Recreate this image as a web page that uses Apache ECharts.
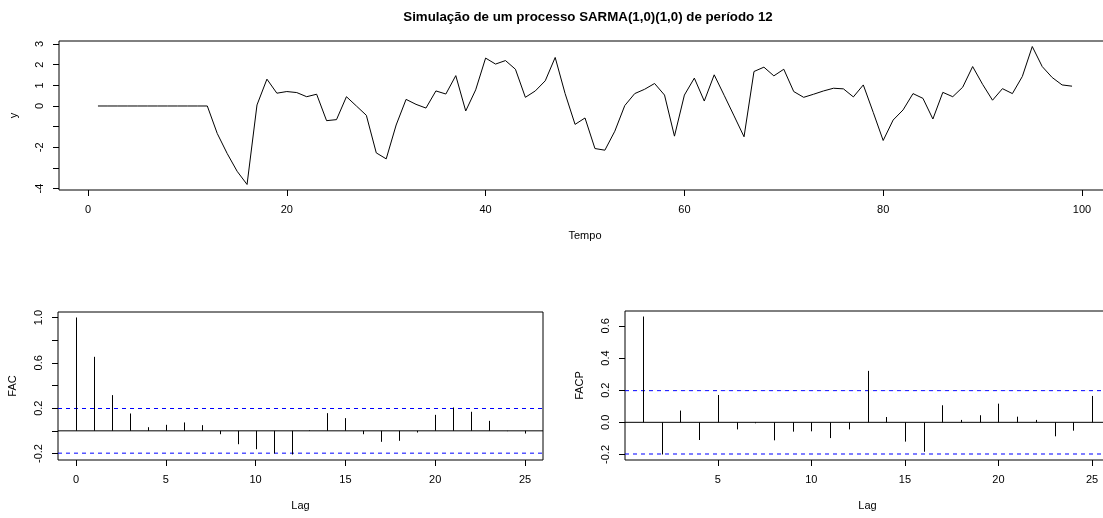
<!DOCTYPE html>
<html>
<head>
<meta charset="utf-8">
<script src="https://cdn.jsdelivr.net/npm/echarts@6/dist/echarts.min.js"></script>
<style>
  html, body { margin: 0; padding: 0; background: #fff; overflow: hidden; }
  #main { width: 1176px; height: 518px; }
</style>
</head>
<body>
<div id="main"></div>
<script>
// Simulated SARMA(1,0)(1,0)_12 series, t = 1..99
const tempo = Array.from({ length: 99 }, (_, i) => i + 1);
const serie = [
  0, 0, 0, 0, 0, 0, 0, 0, 0, 0, 0, 0,
  -1.33, -2.30, -3.16, -3.80, 0.05, 1.30, 0.62, 0.70, 0.65, 0.45,
  0.57, -0.71, -0.66, 0.45, 0.00, -0.45, -2.27, -2.56, -0.92, 0.32,
  0.08, -0.10, 0.73, 0.58, 1.47, -0.24, 0.78, 2.32, 2.03, 2.20,
  1.78, 0.42, 0.73, 1.22, 2.35, 0.60, -0.89, -0.58, -2.06, -2.14,
  -1.22, 0.02, 0.60, 0.81, 1.09, 0.53, -1.46, 0.53, 1.35, 0.24,
  1.51, 0.52, -0.48, -1.49, 1.67, 1.88, 1.46, 1.78, 0.70, 0.42,
  0.57, 0.73, 0.86, 0.83, 0.44, 1.02, -0.31, -1.67, -0.68, -0.19,
  0.60, 0.37, -0.63, 0.66, 0.45, 0.91, 1.91, 1.05, 0.28, 0.84,
  0.60, 1.43, 2.88, 1.91, 1.38, 1.02, 0.96
];

// Sample autocorrelation (lags 0..25)
const facLags = Array.from({ length: 26 }, (_, i) => i);
const facValues = [
  1.000, 0.653, 0.315, 0.153, 0.032, 0.053, 0.074, 0.050, -0.030, -0.118,
  -0.162, -0.200, -0.209, 0.005, 0.156, 0.112, -0.030, -0.097, -0.088, -0.015,
  0.141, 0.206, 0.168, 0.088, -0.003, -0.024
];

// Sample partial autocorrelation (lags 1..25)
const facpLags = Array.from({ length: 25 }, (_, i) => i + 1);
const facpValues = [
  0.658, -0.200, 0.073, -0.110, 0.170, -0.044, -0.006, -0.112, -0.058, -0.056,
  -0.098, -0.044, 0.320, 0.033, -0.120, -0.183, 0.106, 0.015, 0.044, 0.116,
  0.035, 0.015, -0.087, -0.052, 0.164
];

// Tick positions and labels
const tempoTicks = [0, 20, 40, 60, 80, 100];
const serieTicks = [-4, -3, -2, -1, 0, 1, 2, 3];
const serieLabels = [-4, -2, 0, 1, 2, 3];
const lagTicks = [0, 5, 10, 15, 20, 25];
const facTicks = [-0.2, 0, 0.2, 0.4, 0.6, 0.8, 1.0];
const facLabels = [-0.2, 0.2, 0.6, 1.0];
const facpTicks = [-0.2, 0, 0.2, 0.4, 0.6];

const nObs = serie.length;
const clim = 1.96 / Math.sqrt(nObs);

// axis range padded by 4% on each side
function padRange(lo, hi) {
  const d = (hi - lo) * 0.04;
  return [lo - d, hi + d];
}

const FONT = '"Liberation Sans", Arial, Helvetica, sans-serif';
const txt = { color: '#000', fontSize: 11, fontFamily: FONT };

const xr0 = padRange(Math.min(...tempo), Math.max(...tempo));
const yr0 = padRange(Math.min(...serie), Math.max(...serie));
const xr1 = padRange(Math.min(...facLags), Math.max(...facLags));
const yr1 = padRange(Math.min(-clim, ...facValues), Math.max(clim, ...facValues));
const xr2 = padRange(Math.min(...facpLags), Math.max(...facpLags));
const yr2 = padRange(Math.min(-clim, ...facpValues), Math.max(clim, ...facpValues));

function xAxisDef(grid, range, ticks, name, fmt) {
  return {
    gridIndex: grid, type: 'value', min: range[0], max: range[1], position: 'bottom',
    axisLine: { show: false, onZero: false },
    axisTick: { show: true, customValues: ticks, length: 6, lineStyle: { color: '#000', width: 1 } },
    axisLabel: { customValues: ticks, margin: 14, formatter: fmt || (v => String(v)), ...txt },
    splitLine: { show: false },
    name: name, nameLocation: 'middle', nameGap: 40, nameTextStyle: txt
  };
}

function yAxisDef(grid, range, ticks, labels, name, fmt) {
  return {
    gridIndex: grid, type: 'value', min: range[0], max: range[1], position: 'left',
    axisLine: { show: false, onZero: false },
    axisTick: { show: true, customValues: ticks, length: 6, lineStyle: { color: '#000', width: 1 } },
    axisLabel: { customValues: labels, margin: 14, rotate: 90, formatter: fmt || (v => String(v)), ...txt },
    splitLine: { show: false },
    name: name, nameLocation: 'middle', nameGap: 40, nameRotate: 90, nameTextStyle: txt
  };
}

// vertical spikes from zero to each correlation value
function spikes(params, api) {
  const p0 = api.coord([api.value(0), 0]);
  const p1 = api.coord([api.value(0), api.value(1)]);
  const x = Math.round(p0[0]) + 0.5;
  return {
    type: 'line',
    shape: { x1: x, y1: p0[1], x2: x, y2: p1[1] },
    style: { stroke: '#000', lineWidth: 1 }
  };
}

// horizontal reference line across a panel (zero line or ±1.96/sqrt(n) band)
function hLine(xIdx, yIdx, xr, value, color, dashed) {
  return {
    type: 'line', xAxisIndex: xIdx, yAxisIndex: yIdx,
    data: [[xr[0], value], [xr[1], value]],
    showSymbol: false, symbol: 'none', silent: true, z: 1,
    lineStyle: { color: color, width: 1, type: dashed ? [4, 4] : 'solid' }
  };
}

const gridStyle = { show: true, borderColor: '#000', borderWidth: 1, backgroundColor: 'transparent', containLabel: false };
const dec1 = v => v.toFixed(1);

const option = {
  animation: false,
  title: {
    text: 'Simulação de um processo SARMA(1,0)(1,0) de período 12',
    left: 'center', top: 6,
    textStyle: { fontSize: 13.3, fontWeight: 'bold', color: '#000', fontFamily: FONT }
  },
  grid: [
    { left: 58, top: 41, width: 1053, height: 149, ...gridStyle },
    { left: 58, top: 312, width: 485, height: 148, ...gridStyle },
    { left: 625, top: 311, width: 485, height: 149, ...gridStyle }
  ],
  xAxis: [
    xAxisDef(0, xr0, tempoTicks, 'Tempo'),
    xAxisDef(1, xr1, lagTicks, 'Lag'),
    xAxisDef(2, xr2, lagTicks, 'Lag')
  ],
  yAxis: [
    yAxisDef(0, yr0, serieTicks, serieLabels, 'y'),
    yAxisDef(1, yr1, facTicks, facLabels, 'FAC', dec1),
    yAxisDef(2, yr2, facpTicks, facpTicks, 'FACP', dec1)
  ],
  series: [
    {
      type: 'line', xAxisIndex: 0, yAxisIndex: 0,
      data: tempo.map((t, i) => [t, serie[i]]),
      showSymbol: false, symbol: 'none',
      lineStyle: { color: '#000', width: 1 }, silent: true
    },
    hLine(1, 1, xr1, 0, '#000', false),
    hLine(1, 1, xr1, clim, '#0000ff', true),
    hLine(1, 1, xr1, -clim, '#0000ff', true),
    {
      type: 'custom', xAxisIndex: 1, yAxisIndex: 1, z: 3,
      data: facLags.map((l, i) => [l, facValues[i]]),
      renderItem: spikes, silent: true
    },
    hLine(2, 2, xr2, 0, '#000', false),
    hLine(2, 2, xr2, clim, '#0000ff', true),
    hLine(2, 2, xr2, -clim, '#0000ff', true),
    {
      type: 'custom', xAxisIndex: 2, yAxisIndex: 2, z: 3,
      data: facpLags.map((l, i) => [l, facpValues[i]]),
      renderItem: spikes, silent: true
    }
  ]
};

const chart = echarts.init(document.getElementById('main'), null, { renderer: 'canvas' });
chart.setOption(option);
</script>
</body>
</html>
